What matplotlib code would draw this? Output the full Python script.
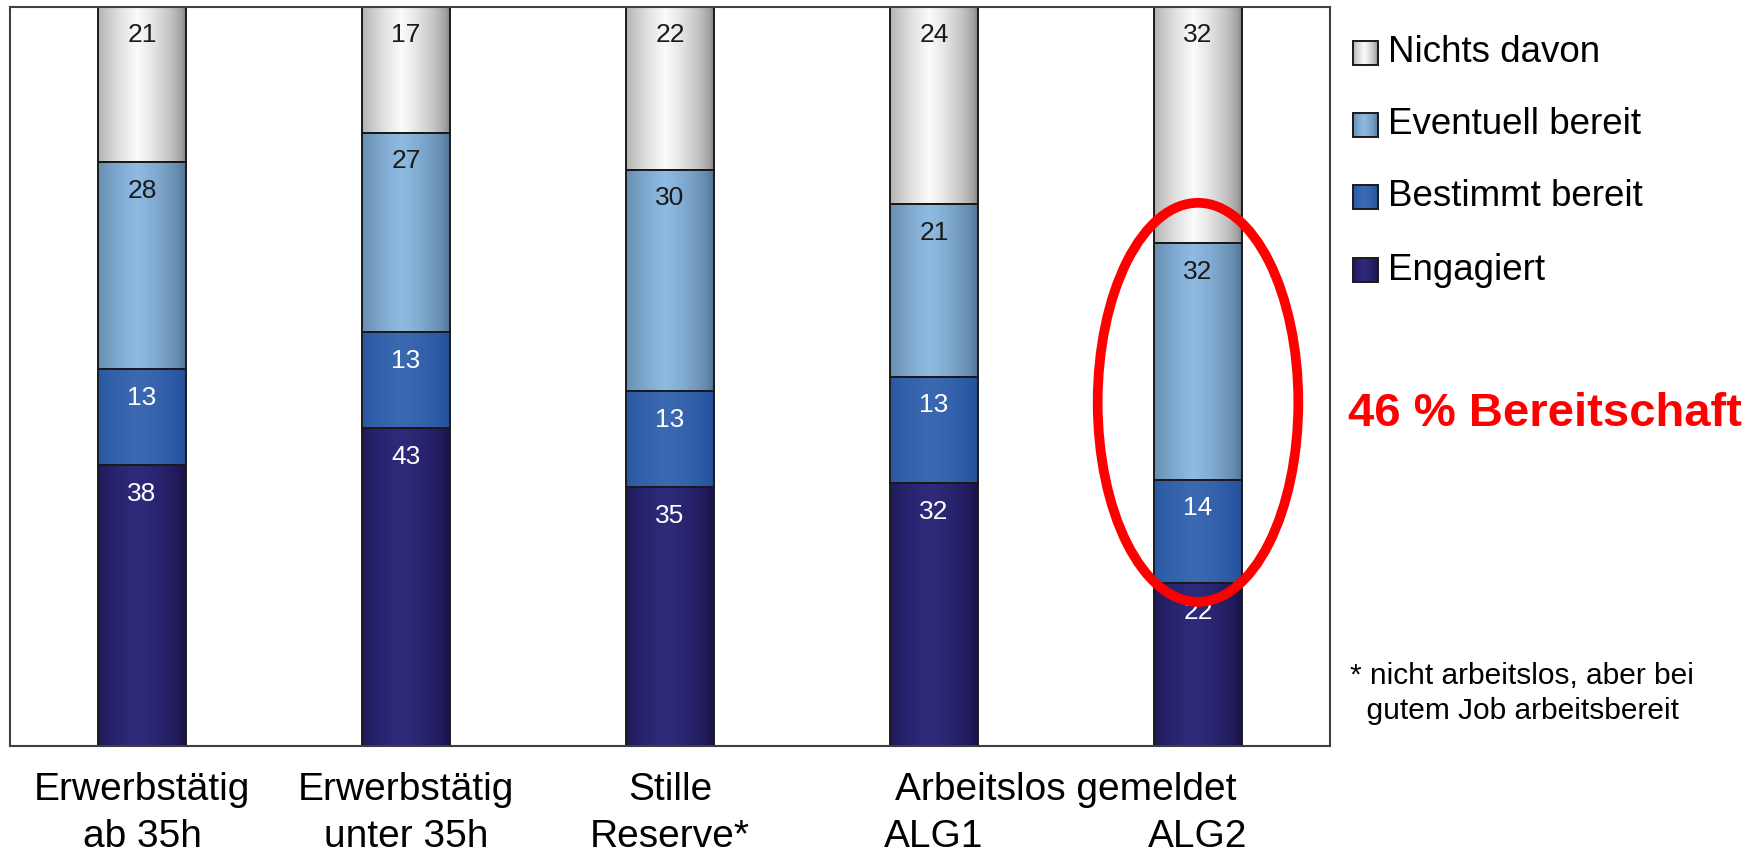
import numpy as np
import matplotlib
matplotlib.use("Agg")
import matplotlib.pyplot as plt
from matplotlib.patches import Rectangle, Ellipse
from matplotlib.transforms import blended_transform_factory

plt.rcParams['font.family'] = ['Liberation Sans', 'DejaVu Sans']

# data (bottom to top: Engagiert, Bestimmt bereit, Eventuell bereit, Nichts davon)
groups = ["Erwerbstätig\nab 35h", "Erwerbstätig\nunter 35h", "Stille\nReserve*", "ALG1", "ALG2"]
group_header = "Arbeitslos gemeldet"
series = ["Engagiert", "Bestimmt bereit", "Eventuell bereit", "Nichts davon"]
engagiert = [38, 43, 35, 32, 22]
bestimmt = [13, 13, 13, 13, 14]
eventuell = [28, 27, 30, 21, 32]
nichts = [21, 17, 22, 24, 32]
highlight = "46 % Bereitschaft"
footnote = "* nicht arbeitslos, aber bei\n  gutem Job arbeitsbereit"

# (edge colour, centre colour, label colour)
styles = [("#150e42", "#2f2b7c", "white"),
          ("#1f4b97", "#3b69b2", "white"),
          ("#48698a", "#8fbbe2", "#1a1a1a"),
          ("#787878", "#fbfbfc", "#1a1a1a")]


def gradient(edge, centre, n=200):
    e = np.array(matplotlib.colors.to_rgb(edge))
    c = np.array(matplotlib.colors.to_rgb(centre))
    t = np.linspace(0, 1, n)
    f = 1 - np.clip(np.abs(t - 0.45) / 0.55, 0, 1)
    f = np.sqrt(f)
    img = e[None, :] * (1 - f[:, None]) + c[None, :] * f[:, None]
    return img[None, :, :]


fig = plt.figure(figsize=(17.64, 8.52), dpi=100)
ax = fig.add_axes([10 / 1764, 1 - 746 / 852, 1320 / 1764, 739 / 852])

data = np.array([engagiert, bestimmt, eventuell, nichts], dtype=float)
shares = data / data.sum(axis=0) * 100
x = np.arange(len(groups))
w = 0.333

bottom = np.zeros(len(groups))
for k in range(len(series)):
    edge, centre, tc = styles[k]
    img = gradient(edge, centre)
    for i in range(len(groups)):
        b, h = bottom[i], shares[k, i]
        ax.imshow(img, extent=[x[i] - w / 2, x[i] + w / 2, b, b + h],
                  aspect='auto', interpolation='bilinear', zorder=1)
        ax.bar(x[i], h, w, bottom=b, facecolor='none', edgecolor='#1a1a1a',
               linewidth=1.4, zorder=2)
        ax.annotate(str(int(data[k, i])), (x[i], b + h), xytext=(0, -20.5),
                    textcoords='offset points', ha='center', va='center',
                    fontsize=19, color=tc, zorder=3)
    bottom += shares[k]

ax.set_xlim(-0.5, len(groups) - 0.5)
ax.set_ylim(0, 100)
ax.set_xticks([])
ax.set_yticks([])
for s in ax.spines.values():
    s.set_color('#404040')
    s.set_linewidth(1.5)

# x labels
tr = blended_transform_factory(ax.transData, ax.transAxes)
y1, y2 = -0.0595, -0.1234
for i, g in enumerate(groups):
    lines = g.split("\n")
    if len(lines) == 2:
        ax.text(x[i], y1, lines[0], transform=tr, ha='center', va='center', fontsize=28)
        ax.text(x[i], y2, lines[1], transform=tr, ha='center', va='center', fontsize=28)
    else:
        ax.text(x[i], y2, lines[0], transform=tr, ha='center', va='center', fontsize=28)
ax.text((x[3] + x[4]) / 2, y1, group_header, transform=tr, ha='center', va='center', fontsize=28)

# highlight ellipse
ax.add_patch(Ellipse((x[4], 46.5), 0.76, 54, fill=False, edgecolor='#ff0000',
                     linewidth=7, zorder=5, clip_on=False))
fig.text(1348 / 1764, 1 - 414 / 852, highlight, color='#ff0000', fontsize=34,
         fontweight='bold', ha='left', va='center')

# legend drawn in pixel coordinates
lax = fig.add_axes([0, 0, 1, 1])
lax.set_xlim(0, 1764)
lax.set_ylim(852, 0)
lax.axis('off')
rows = [53, 125, 197, 270]
for r, k in zip(rows, [3, 2, 1, 0]):
    edge, centre, _ = styles[k]
    lax.imshow(gradient(edge, centre), extent=[1353, 1378, r + 12, r - 12],
               aspect='auto', interpolation='bilinear')
    lax.add_patch(Rectangle((1353, r - 12), 25, 24, fill=False,
                            edgecolor='#1a1a1a', linewidth=1.4))
    lax.text(1388, r, series[k], fontsize=26.5, ha='left', va='center')
lax.set_xlim(0, 1764)
lax.set_ylim(852, 0)

fig.text(1350 / 1764, 1 - 662 / 852, footnote, fontsize=21.5, ha='left', va='top',
         linespacing=1.3)

fig.savefig("out.png", dpi=100)
